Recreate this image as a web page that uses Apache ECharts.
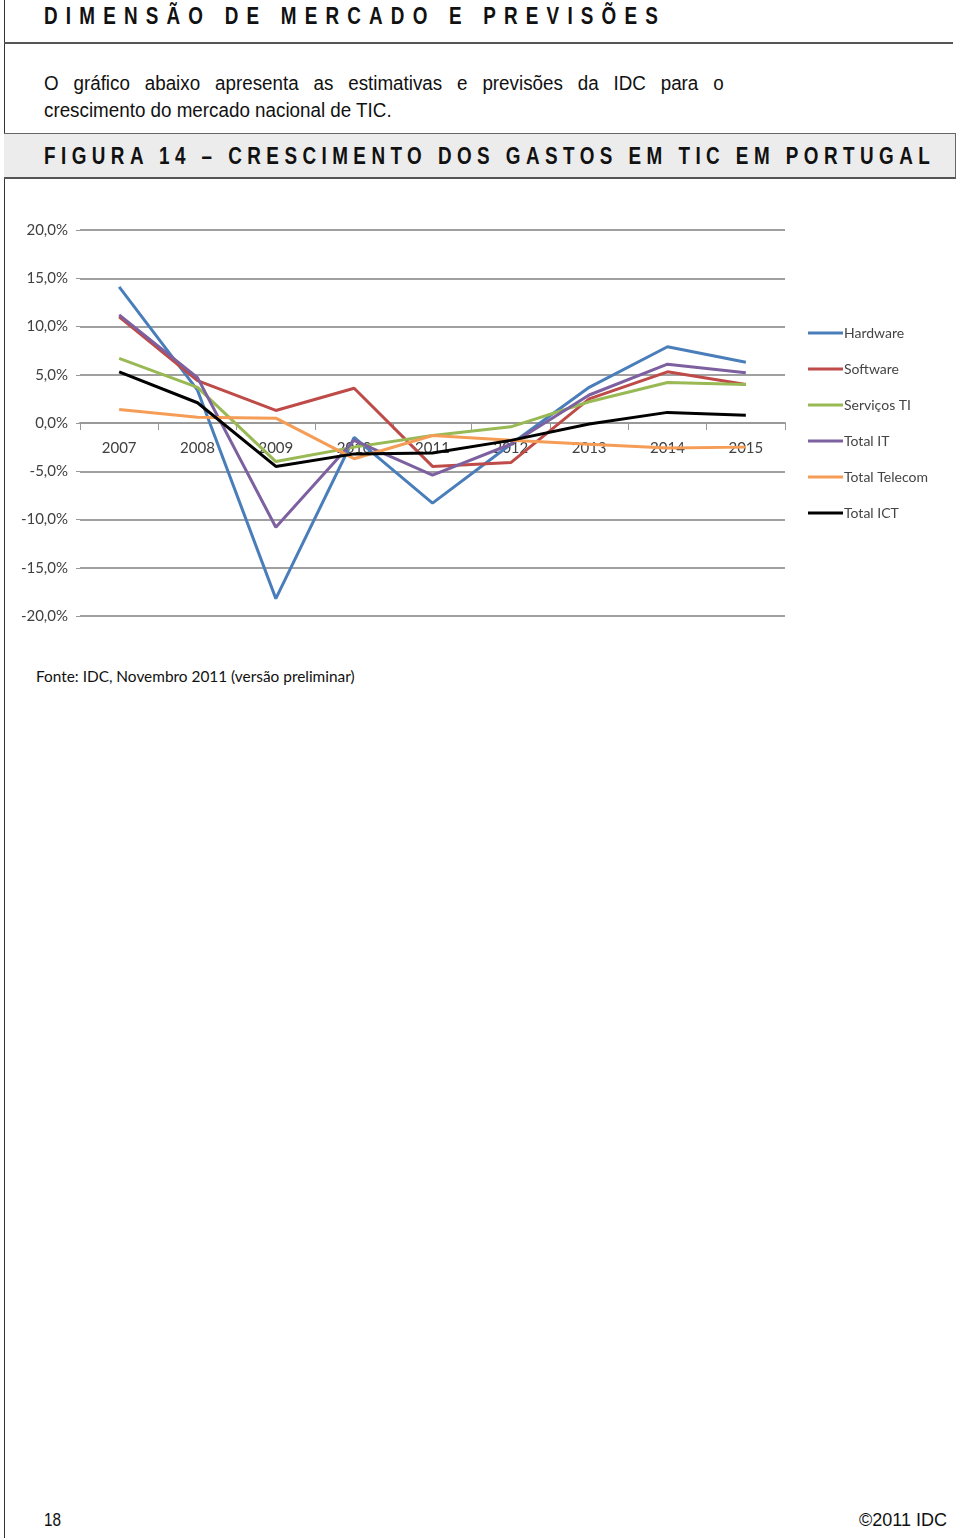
<!DOCTYPE html>
<html><head><meta charset="utf-8">
<script src="https://cdn.jsdelivr.net/npm/echarts@6/dist/echarts.min.js"></script>
<style>
html,body{margin:0;padding:0;background:#fff;}
body{width:960px;height:1538px;position:relative;overflow:hidden;font-family:"Liberation Sans",Arial,sans-serif;color:#111;}
.abs{position:absolute;white-space:nowrap;}
.nar{transform-origin:0 0;}
#vline{left:4px;top:0;width:1px;height:1538px;background:#333;}
#h1{left:44px;top:2px;font-size:23px;font-weight:bold;letter-spacing:10px;line-height:28px;transform:scaleX(0.82);}
#hr1{left:4px;top:42px;width:949px;height:2px;background:#555;}
#p1{left:44px;top:70px;width:723px;font-size:20px;line-height:27px;white-space:normal;text-align:justify;text-align-last:left;transform:scaleX(0.94);}
#fig{left:4px;top:133px;width:951px;height:43px;background:#ececec;border-top:1.5px solid #666;border-bottom:2px solid #555;border-right:1.5px solid #666;}
#figt{left:44px;top:142px;font-size:23px;font-weight:bold;letter-spacing:6.65px;line-height:28px;transform:scaleX(0.82);}
#chart{left:0;top:200px;width:960px;height:450px;}
#src{left:36px;top:667px;font-family:Lato,"Open Sans",sans-serif;font-size:15.4px;color:#111;}
#pg{left:44px;top:1510px;font-size:18px;transform:scaleX(0.85);}
#cp{right:13px;top:1510px;font-size:18px;}
</style></head>
<body>
<div id="vline" class="abs"></div>
<div id="h1" class="abs nar">DIMENSÃO DE MERCADO E PREVISÕES</div>
<div id="hr1" class="abs"></div>
<div id="p1" class="abs nar">O gráfico abaixo apresenta as estimativas e previsões da IDC para o crescimento do mercado nacional de TIC.</div>
<div id="fig" class="abs"></div>
<div id="figt" class="abs nar">FIGURA 14 – CRESCIMENTO DOS GASTOS EM TIC EM PORTUGAL</div>
<div id="chart" class="abs"></div>
<div id="src" class="abs">Fonte: IDC, Novembro 2011 (versão preliminar)</div>
<div id="pg" class="abs nar">18</div>
<div id="cp" class="abs">©2011 IDC</div>
<script>
const years = ['2007','2008','2009','2010','2011','2012','2013','2014','2015'];
const seriesNames = ['Hardware','Software','Serviços TI','Total IT','Total Telecom','Total ICT'];
const hardware     = [14.1, 3.4, -18.2, -1.5, -8.3, -2.2, 3.7, 7.9, 6.3];
const software     = [11.0, 4.4, 1.3, 3.6, -4.5, -4.1, 2.5, 5.3, 4.0];
const servicosTI   = [6.7, 3.7, -4.0, -2.5, -1.3, -0.4, 2.2, 4.2, 4.0];
const totalIT      = [11.2, 4.7, -10.8, -1.8, -5.4, -2.2, 2.9, 6.1, 5.2];
const totalTelecom = [1.4, 0.6, 0.5, -3.7, -1.3, -1.8, -2.2, -2.6, -2.5];
const totalICT     = [5.3, 2.1, -4.5, -3.2, -3.1, -1.8, -0.1, 1.1, 0.8];
const yTickLabels  = ['-20,0%','-15,0%','-10,0%','-5,0%','0,0%','5,0%','10,0%','15,0%','20,0%'];
const colors = ['#4a7ebb','#be4b48','#98b954','#7d60a0','#f59d56','#000000'];
const allData = [hardware, software, servicosTI, totalIT, totalTelecom, totalICT];

const chart = echarts.init(document.getElementById('chart'), null, {renderer:'canvas'});
const fam = 'Lato, "Open Sans", sans-serif';
chart.setOption({
  animation:false,
  grid:{left:80, right:175, top:30, height:386},
  legend:{
    orient:'vertical', left:808, top:125, padding:0,
    icon:'rect', itemWidth:35, itemHeight:3, itemGap:20,
    textStyle:{fontFamily:fam, fontSize:14, color:'#444', lineHeight:16, padding:[0,0,0,-4]},
    data:seriesNames
  },
  xAxis:{
    type:'category', data:years, boundaryGap:true,
    axisLine:{onZero:true, lineStyle:{color:'#999', width:2}},
    axisTick:{show:true, alignWithLabel:false, length:7, lineStyle:{color:'#999', width:1}},
    axisLabel:{margin:-175, fontFamily:fam, fontSize:15, color:'#404040'},
    splitLine:{show:false}
  },
  yAxis:{
    type:'value', min:-20, max:20, interval:5,
    axisLine:{show:false},
    axisTick:{show:true, length:4, lineStyle:{color:'#999'}},
    axisLabel:{margin:12, fontFamily:fam, fontSize:15, color:'#404040',
      formatter:(v)=> yTickLabels[Math.round((v+20)/5)]},
    splitLine:{show:true, lineStyle:{color:'#a0a0a0', width:2}}
  },
  series: seriesNames.map((n,i)=>({
    name:n, type:'line', data:allData[i], symbol:'none',
    lineStyle:{color:colors[i], width:3}, itemStyle:{color:colors[i]},
    z: 2+i
  }))
});
</script>
</body></html>
